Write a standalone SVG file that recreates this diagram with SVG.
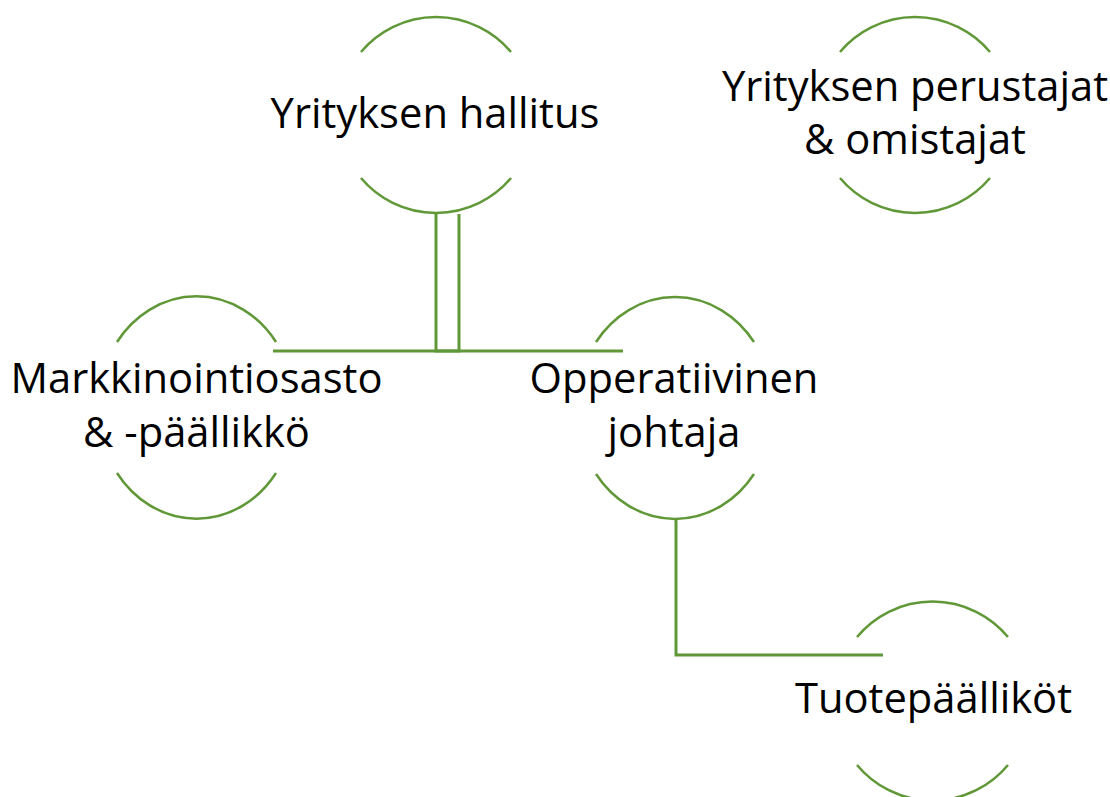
<svg xmlns="http://www.w3.org/2000/svg" width="1110" height="797" viewBox="0 0 1110 797">
<style>
.arc{fill:none;stroke:#609838;stroke-width:2.5}
.con{fill:none;stroke:#609838;stroke-width:3}
.t{font-family:"Open Sans","Noto Sans",sans-serif;font-size:41.7px;fill:#000;text-anchor:middle;font-variant-ligatures:none}
</style>
<rect width="1110" height="797" fill="#fff"/>
<g id="connectors">
<path class="con" d="M436 214 V351 H623"/>
<path class="con" d="M459 214 V351 H273"/>
<path class="con" d="M676 520 V655 H883"/>
</g>
<g id="n-hallitus">
<path class="arc" d="M361 52 A98 98 0 0 1 511 52"/>
<path class="arc" d="M361 178 A98 98 0 0 0 511 178"/>
<text class="t" x="435" y="128">Yrityksen hallitus</text>
</g>
<g id="n-perustajat">
<path class="arc" d="M840 52 A98 98 0 0 1 990 52"/>
<path class="arc" d="M840 178 A98 98 0 0 0 990 178"/>
<text class="t" x="915" y="101">Yrityksen perustajat</text>
<text class="t" x="915" y="154">&amp; omistajat</text>
</g>
<g id="n-markkinointi">
<path class="arc" d="M117 342 A98 110 0 0 1 276 342"/>
<path class="arc" d="M117 473 A98 110 0 0 0 276 473"/>
<text class="t" x="196.5" y="393">Markkinointiosasto</text>
<text class="t" x="196.5" y="447">&amp; -päällikkö</text>
</g>
<g id="n-operatiivinen">
<path class="arc" d="M596 342 A98 110 0 0 1 754 342"/>
<path class="arc" d="M596 474 A98 110 0 0 0 754 474"/>
<text class="t" x="674" y="393">Opperatiivinen</text>
<text class="t" x="674" y="447">johtaja</text>
</g>
<g id="n-tuote">
<path class="arc" d="M857 637 A98 98 0 0 1 1008 637"/>
<path class="arc" d="M857 765 A98 98 0 0 0 1008 765"/>
<text class="t" x="933.5" y="713">Tuotepäälliköt</text>
</g>
</svg>
